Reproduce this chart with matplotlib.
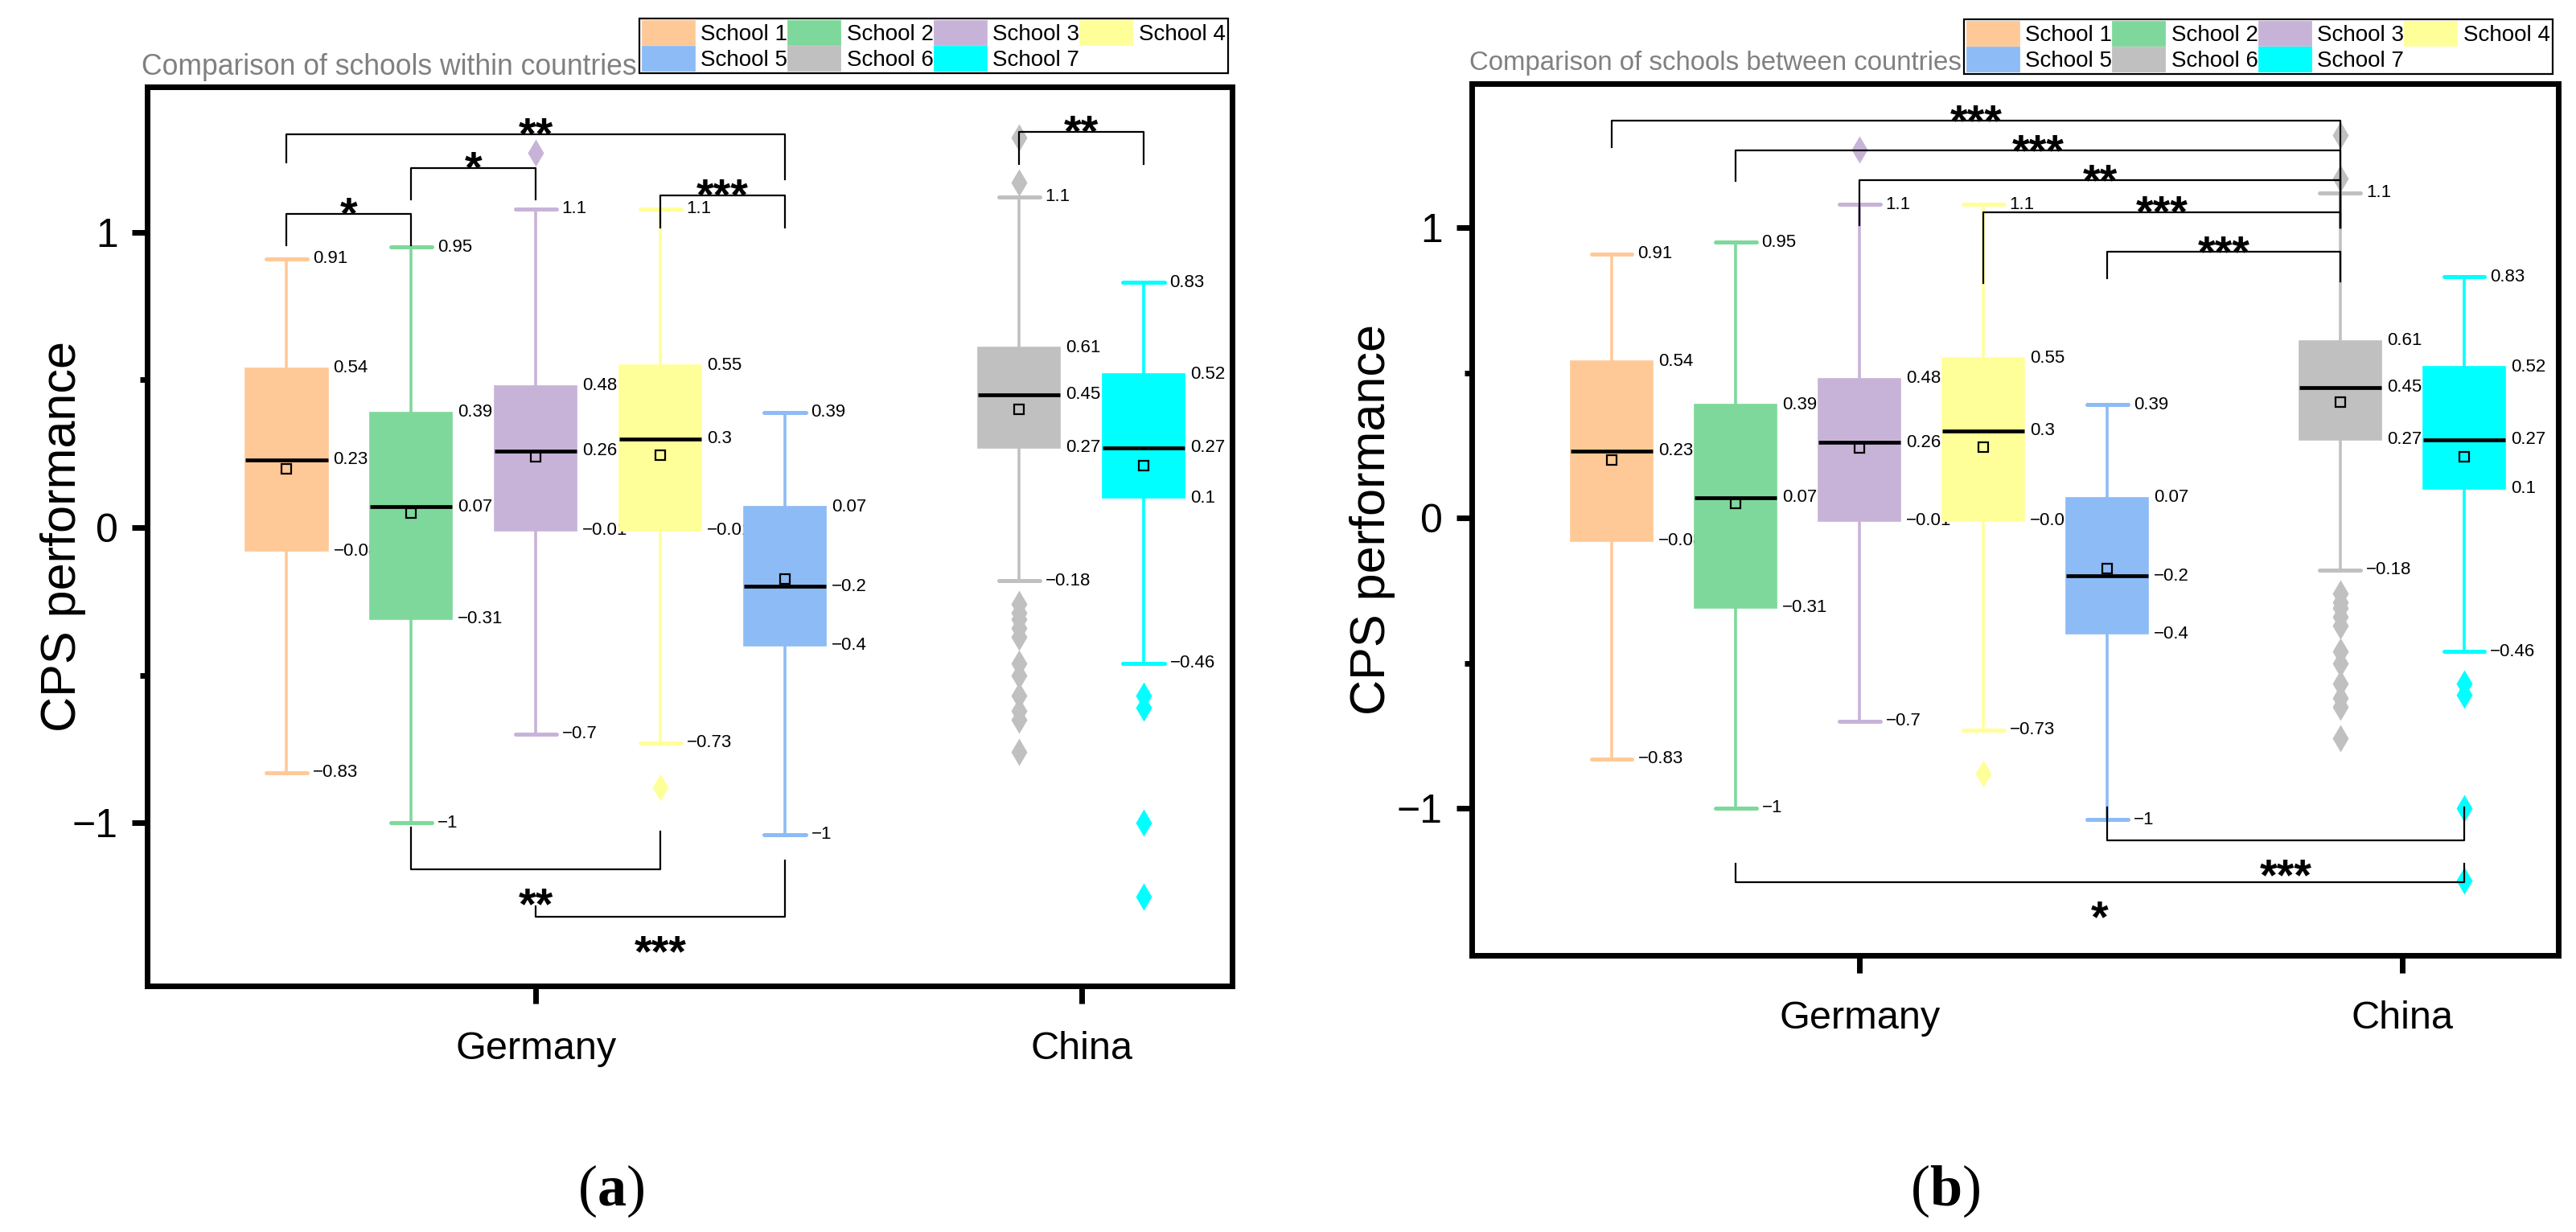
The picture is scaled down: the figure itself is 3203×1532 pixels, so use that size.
import matplotlib
matplotlib.use('Agg')
import matplotlib.pyplot as plt
from matplotlib.patches import Patch
from matplotlib.ticker import FixedLocator

# ---- Werte ----
schools = ['School 1', 'School 2', 'School 3', 'School 4', 'School 5', 'School 6', 'School 7']
countries = ['Germany', 'China']
colors = ['#FFC997', '#7FD89B', '#C8B3D8', '#FFFF99', '#8DBBF5', '#C0C0C0', '#00FFFF']

whis_hi = [0.91, 0.95, 1.08, 1.08, 0.39, 1.12, 0.83]
q3 = [0.54, 0.39, 0.48, 0.55, 0.07, 0.61, 0.52]
median = [0.23, 0.07, 0.26, 0.30, -0.20, 0.45, 0.27]
q1 = [-0.08, -0.31, -0.01, -0.01, -0.40, 0.27, 0.10]
whis_lo = [-0.83, -1.00, -0.70, -0.73, -1.04, -0.18, -0.46]
means = [0.20, 0.05, 0.24, 0.245, -0.175, 0.40, 0.21]
outliers = [
    [],
    [],
    [1.27],
    [-0.88],
    [],
    [1.17, 1.32, -0.26, -0.29, -0.31, -0.34, -0.37, -0.46, -0.50, -0.57, -0.62, -0.65, -0.76],
    [-0.57, -0.61, -1.00, -1.25],
]

# Signifikanzen: (Schule i, Schule j, Sterne)
sig_within_top = [(0, 1, '*'), (1, 2, '*'), (0, 4, '**'), (3, 4, '***'), (5, 6, '**')]
sig_within_bottom = [(1, 3, '**'), (2, 4, '***')]
sig_between_top = [(0, 5, '***'), (1, 5, '***'), (2, 5, '**'), (3, 5, '***'), (4, 5, '***')]
sig_between_bottom = [(4, 6, '***'), (1, 6, '*')]

# ---- Layout ----
W, H, DPI = 3203, 1532, 200
STAR = 20
positions = [0, 1, 2, 3, 4, 5.88, 6.88]
country_ticks = [2, 6.38]

# Klammer-Geometrie: (Hoehe Balken, Ende linkes Bein, Ende rechtes Bein)
within_top_geo = [(1.063, 0.956, 0.956), (1.218, 1.112, 1.112), (1.332, 1.237, 1.18),
                  (1.125, 1.016, 1.016), (1.34, 1.232, 1.232)]
within_bottom_geo = [(-1.158, -1.016, -1.03), (-1.319, -1.283, -1.128)]
between_top_geo = [(1.368, 1.277, 1.0), (1.266, 1.161, 1.0), (1.163, 1.008, 1.0),
                   (1.053, 0.809, 1.0), (0.917, 0.825, 0.814)]
between_bottom_geo = [(-1.11, -0.997, -0.997), (-1.255, -1.19, -1.19)]

plt.rcParams['font.family'] = ['Liberation Sans', 'DejaVu Sans']
plt.rcParams['mathtext.fontset'] = 'custom'
plt.rcParams['mathtext.rm'] = 'Liberation Serif'
plt.rcParams['mathtext.bf'] = 'Liberation Serif:bold'


def fmt(v):
    return f'{v:.2g}'.replace('-', '\u2212')


def bracket(ax, i, j, geo, stars, above):
    bar, leg1, leg2 = geo
    x1, x2 = positions[i], positions[j]
    ax.plot([x1, x1, x2, x2], [leg1, bar, bar, leg2], color='black', lw=0.8, zorder=3)
    yc = bar + 0.04 if above else bar - 0.08
    ax.annotate(stars, xy=((x1 + x2) / 2, yc), xytext=(0, -0.58 * STAR),
                textcoords='offset points', ha='center', va='baseline',
                fontsize=STAR, fontweight='bold', zorder=3)


def draw_panel(ax, xlim, ylim, title, title_xy, title_size, legend_xy, ylabel_x,
               top_sig, top_geo, bottom_sig, bottom_geo):
    stats = [dict(med=median[i], q1=q1[i], q3=q3[i], whislo=whis_lo[i],
                  whishi=whis_hi[i], mean=means[i], fliers=outliers[i])
             for i in range(len(schools))]
    bp = ax.bxp(stats, positions=positions, widths=0.66, capwidths=0.33,
                patch_artist=True, showmeans=True, showfliers=True, manage_ticks=False,
                medianprops=dict(color='black', lw=1.7),
                meanprops=dict(marker='s', mfc='none', mec='black', ms=4.2, mew=0.8),
                zorder=2)
    for k, c in enumerate(colors):
        bp['boxes'][k].set(facecolor=c, edgecolor=c, lw=0.6)
        for line in bp['whiskers'][2 * k:2 * k + 2]:
            line.set(color=c, lw=1.3)
        for line in bp['caps'][2 * k:2 * k + 2]:
            line.set(color=c, lw=1.8, solid_capstyle='round')
        bp['fliers'][k].set(marker='d', mfc=c, mec='none', ms=8.5)

    # Zahlenwerte neben Box und Whiskern
    for k in range(len(schools)):
        x = positions[k]
        for v, half in [(whis_hi[k], 0.165), (q3[k], 0.33), (median[k], 0.33),
                        (q1[k], 0.33), (whis_lo[k], 0.165)]:
            ax.annotate(fmt(v), xy=(x + half, v), xytext=(2.5, 0), textcoords='offset points',
                        ha='left', va='center', fontsize=8, zorder=1.5)

    for (i, j, s), geo in zip(top_sig, top_geo):
        bracket(ax, i, j, geo, s, True)
    for (i, j, s), geo in zip(bottom_sig, bottom_geo):
        bracket(ax, i, j, geo, s, False)

    ax.set_xlim(*xlim)
    ax.set_ylim(*ylim)
    ax.set_xticks(country_ticks)
    ax.set_xticklabels(countries)
    ax.set_yticks([-1, 0, 1])
    ax.yaxis.set_minor_locator(FixedLocator([-0.5, 0.5]))
    for sp in ax.spines.values():
        sp.set_linewidth(2.5)
    ax.tick_params(axis='y', which='major', length=7, width=2.5, pad=6, labelsize=18)
    ax.tick_params(axis='y', which='minor', length=3.2, width=2.5)
    ax.tick_params(axis='x', which='major', length=8, width=2.5, pad=12, labelsize=17.5)
    ax.set_ylabel('CPS performance', fontsize=22)
    ax.yaxis.set_label_coords(ylabel_x, 0.5)

    ax.text(title_xy[0], title_xy[1], title, transform=ax.figure.transFigure,
            color='#808080', fontsize=title_size, ha='left', va='baseline', zorder=1)

    order = [0, 4, 1, 5, 2, 6, 3]
    handles = [Patch(facecolor=colors[k], edgecolor=colors[k]) for k in order]
    leg = ax.legend(handles, [schools[k] for k in order], ncol=4, loc='upper right',
                    bbox_to_anchor=legend_xy, bbox_transform=ax.figure.transFigure,
                    fancybox=False, edgecolor='black', framealpha=1, fontsize=10,
                    handlelength=2.3, handleheight=1.2, handletextpad=0.3,
                    columnspacing=0.05, labelspacing=0.08, borderpad=0.12,
                    borderaxespad=0)
    leg.get_frame().set_linewidth(0.8)
    leg.set_zorder(5)


fig = plt.figure(figsize=(W / DPI, H / DPI), dpi=DPI)
ax_a = fig.add_axes([183 / W, 1 - 1226 / H, (1532 - 183) / W, (1226 - 108) / H])
ax_b = fig.add_axes([1830 / W, 1 - 1188 / H, (3181 - 1830) / W, (1188 - 104) / H])

draw_panel(ax_a, (-1.12, 7.59), (-1.553, 1.493), 'Comparison of schools within countries',
           (176 / W, 1 - 93 / H), 12.8, (1527 / W, 1 - 23 / H), -0.056,
           sig_within_top, within_top_geo, sig_within_bottom, within_bottom_geo)
draw_panel(ax_b, (-1.13, 7.64), (-1.507, 1.496), 'Comparison of schools between countries',
           (1827 / W, 1 - 87 / H), 11.9, (3174 / W, 1 - 24 / H), -0.07,
           sig_between_top, between_top_geo, sig_between_bottom, between_bottom_geo)

fig.text(0.237, 0.033, r'($\mathbf{a}$)', fontsize=26, family='Liberation Serif',
         ha='center', va='center')
fig.text(0.755, 0.033, r'($\mathbf{b}$)', fontsize=26, family='Liberation Serif',
         ha='center', va='center')

fig.savefig('out.png', dpi=DPI)
